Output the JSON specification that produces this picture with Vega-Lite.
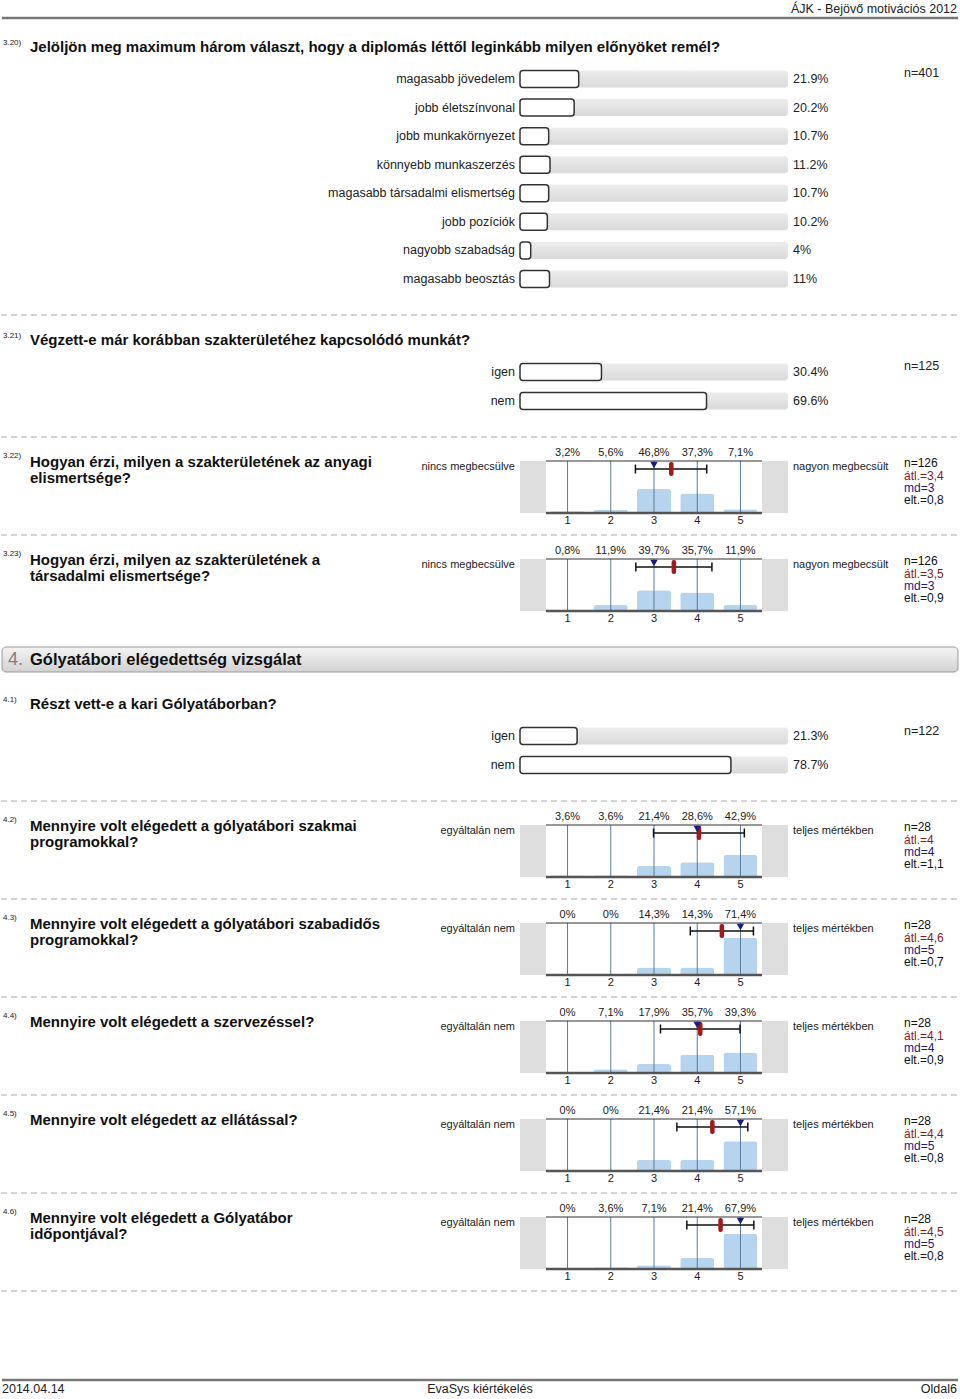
{
"$schema": "https://vega.github.io/schema/vega-lite/v6.json",
"padding": 0,
"spacing": 0,
"bounds": "flush",
"background": "white",
"resolve": {"scale": {"x": "independent", "y": "independent"}},
"config": {"view": {"stroke": null}, "axis": {"disable": true}, "scale": {"continuousPadding": 0}, "font": "Liberation Sans", "text": {"font": "Liberation Sans", "color": "#222222", "baseline": "middle"}},
"datasets": {
"q320": [
{"label": "magasabb jövedelem", "pct": 21.9, "plab": "21.9%"},
{"label": "jobb életszínvonal", "pct": 20.2, "plab": "20.2%"},
{"label": "jobb munkakörnyezet", "pct": 10.7, "plab": "10.7%"},
{"label": "könnyebb munkaszerzés", "pct": 11.2, "plab": "11.2%"},
{"label": "magasabb társadalmi elismertség", "pct": 10.7, "plab": "10.7%"},
{"label": "jobb pozíciók", "pct": 10.2, "plab": "10.2%"},
{"label": "nagyobb szabadság", "pct": 4, "plab": "4%"},
{"label": "magasabb beosztás", "pct": 11, "plab": "11%"}
],
"q321": [{"label": "igen", "pct": 30.4, "plab": "30.4%"}, {"label": "nem", "pct": 69.6, "plab": "69.6%"}],
"q41": [{"label": "igen", "pct": 21.3, "plab": "21.3%"}, {"label": "nem", "pct": 78.7, "plab": "78.7%"}],
"h322": [{"cat": 1, "pct": 3.2, "lab": "3,2%"}, {"cat": 2, "pct": 5.6, "lab": "5,6%"}, {"cat": 3, "pct": 46.8, "lab": "46,8%"}, {"cat": 4, "pct": 37.3, "lab": "37,3%"}, {"cat": 5, "pct": 7.1, "lab": "7,1%"}],
"h323": [{"cat": 1, "pct": 0.8, "lab": "0,8%"}, {"cat": 2, "pct": 11.9, "lab": "11,9%"}, {"cat": 3, "pct": 39.7, "lab": "39,7%"}, {"cat": 4, "pct": 35.7, "lab": "35,7%"}, {"cat": 5, "pct": 11.9, "lab": "11,9%"}],
"h42": [{"cat": 1, "pct": 3.6, "lab": "3,6%"}, {"cat": 2, "pct": 3.6, "lab": "3,6%"}, {"cat": 3, "pct": 21.4, "lab": "21,4%"}, {"cat": 4, "pct": 28.6, "lab": "28,6%"}, {"cat": 5, "pct": 42.9, "lab": "42,9%"}],
"h43": [{"cat": 1, "pct": 0, "lab": "0%"}, {"cat": 2, "pct": 0, "lab": "0%"}, {"cat": 3, "pct": 14.3, "lab": "14,3%"}, {"cat": 4, "pct": 14.3, "lab": "14,3%"}, {"cat": 5, "pct": 71.4, "lab": "71,4%"}],
"h44": [{"cat": 1, "pct": 0, "lab": "0%"}, {"cat": 2, "pct": 7.1, "lab": "7,1%"}, {"cat": 3, "pct": 17.9, "lab": "17,9%"}, {"cat": 4, "pct": 35.7, "lab": "35,7%"}, {"cat": 5, "pct": 39.3, "lab": "39,3%"}],
"h45": [{"cat": 1, "pct": 0, "lab": "0%"}, {"cat": 2, "pct": 0, "lab": "0%"}, {"cat": 3, "pct": 21.4, "lab": "21,4%"}, {"cat": 4, "pct": 21.4, "lab": "21,4%"}, {"cat": 5, "pct": 57.1, "lab": "57,1%"}],
"h46": [{"cat": 1, "pct": 0, "lab": "0%"}, {"cat": 2, "pct": 3.6, "lab": "3,6%"}, {"cat": 3, "pct": 7.1, "lab": "7,1%"}, {"cat": 4, "pct": 21.4, "lab": "21,4%"}, {"cat": 5, "pct": 67.9, "lab": "67,9%"}]
},
"vconcat": [
{"width": 960, "height": 18, "data": {"values": [{"t": "ÁJK - Bejövő motivációs 2012"}]}, "layer": [
 {"mark": {"type": "text", "align": "right", "dx": -3, "fontSize": 12.5}, "encoding": {"x": {"datum": 1, "type": "quantitative", "scale": {"domain": [0, 1], "nice": false, "zero": false, "padding": 0}}, "y": {"datum": 0.5, "type": "quantitative", "scale": {"domain": [0, 1], "nice": false, "zero": false, "padding": 0}}, "text": {"field": "t"}}},
 {"mark": {"type": "rule", "stroke": "#777777", "strokeWidth": 2.5}, "encoding": {"x": {"datum": 0.002, "type": "quantitative"}, "x2": {"datum": 0.998}, "y": {"datum": 0, "type": "quantitative"}}}
]},
{"width": 960, "height": 296, "data": {"name": "q320"}, "layer": [
 {"mark": {"type": "bar", "height": 17, "cornerRadius": 3, "fill": {"gradient": "linear", "x1": 0, "y1": 0, "x2": 0, "y2": 1, "stops": [{"offset": 0, "color": "#ececec"}, {"offset": 1, "color": "#dadada"}]}}, "encoding": {"x": {"datum": 0, "type": "quantitative", "scale": {"domain": [0, 100], "range": [520, 788], "nice": false, "zero": false, "padding": 0}}, "x2": {"datum": 100}, "y": {"field": "label", "type": "nominal", "scale": {"type": "point", "domain": ["magasabb jövedelem", "jobb életszínvonal", "jobb munkakörnyezet", "könnyebb munkaszerzés", "magasabb társadalmi elismertség", "jobb pozíciók", "nagyobb szabadság", "magasabb beosztás"], "range": [61, 261], "padding": 0}}}},
 {"mark": {"type": "bar", "height": 17, "cornerRadius": 3, "fill": "white", "stroke": "#333333", "strokeWidth": 1.5}, "encoding": {"x": {"field": "pct", "type": "quantitative"}, "x2": {"datum": 0}, "y": {"field": "label", "type": "nominal"}}},
 {"mark": {"type": "text", "fontSize": 12.5, "align": "right", "dx": -5}, "encoding": {"x": {"datum": 0, "type": "quantitative"}, "y": {"field": "label", "type": "nominal"}, "text": {"field": "label"}}},
 {"mark": {"type": "text", "fontSize": 12.5, "align": "left", "dx": 5}, "encoding": {"x": {"datum": 100, "type": "quantitative"}, "y": {"field": "label", "type": "nominal"}, "text": {"field": "plab"}}},
 {"data": {"values": [{"n": "n=401", "num": "3.20)", "title": "Jelöljön meg maximum három választ, hogy a diplomás léttől leginkább milyen előnyöket remél?"}]}, "layer": [
  {"mark": {"type": "text", "fontSize": 12.5, "align": "left", "dx": 116, "dy": -6}, "encoding": {"x": {"datum": 100, "type": "quantitative"}, "y": {"datum": "magasabb jövedelem", "type": "nominal"}, "text": {"field": "n"}}},
  {"mark": {"type": "text", "fontSize": 8, "align": "left", "dx": -517, "dy": -36}, "encoding": {"x": {"datum": 0, "type": "quantitative"}, "y": {"datum": "magasabb jövedelem", "type": "nominal"}, "text": {"field": "num"}}},
  {"mark": {"type": "text", "fontSize": 15, "fontWeight": "bold", "align": "left", "baseline": "top", "dx": -490, "dy": -39, "color": "#111111"}, "encoding": {"x": {"datum": 0, "type": "quantitative"}, "y": {"datum": "magasabb jövedelem", "type": "nominal"}, "text": {"field": "title"}}}
 ]}
]},
{"width": 960, "height": 2, "data": {"values": [{}]}, "mark": {"type": "rule", "stroke": "#aaaaaa", "strokeWidth": 1, "strokeDash": [6, 4]}, "encoding": {"x": {"datum": 0.001, "type": "quantitative", "scale": {"domain": [0, 1], "nice": false, "zero": false, "padding": 0}}, "x2": {"datum": 0.997}, "y": {"datum": 0.5, "type": "quantitative", "scale": {"domain": [0, 1], "nice": false, "zero": false, "padding": 0}}}},
{"width": 960, "height": 120, "data": {"name": "q321"}, "layer": [
 {"mark": {"type": "bar", "height": 17, "cornerRadius": 3, "fill": {"gradient": "linear", "x1": 0, "y1": 0, "x2": 0, "y2": 1, "stops": [{"offset": 0, "color": "#ececec"}, {"offset": 1, "color": "#dadada"}]}}, "encoding": {"x": {"datum": 0, "type": "quantitative", "scale": {"domain": [0, 100], "range": [520, 788], "nice": false, "zero": false, "padding": 0}}, "x2": {"datum": 100}, "y": {"field": "label", "type": "nominal", "scale": {"type": "point", "domain": ["igen", "nem"], "range": [56, 85], "padding": 0}}}},
 {"mark": {"type": "bar", "height": 17, "cornerRadius": 3, "fill": "white", "stroke": "#333333", "strokeWidth": 1.5}, "encoding": {"x": {"field": "pct", "type": "quantitative"}, "x2": {"datum": 0}, "y": {"field": "label", "type": "nominal"}}},
 {"mark": {"type": "text", "fontSize": 12.5, "align": "right", "dx": -5}, "encoding": {"x": {"datum": 0, "type": "quantitative"}, "y": {"field": "label", "type": "nominal"}, "text": {"field": "label"}}},
 {"mark": {"type": "text", "fontSize": 12.5, "align": "left", "dx": 5}, "encoding": {"x": {"datum": 100, "type": "quantitative"}, "y": {"field": "label", "type": "nominal"}, "text": {"field": "plab"}}},
 {"data": {"values": [{"n": "n=125", "num": "3.21)", "title": "Végzett-e már korábban szakterületéhez kapcsolódó munkát?"}]}, "layer": [
  {"mark": {"type": "text", "fontSize": 12.5, "align": "left", "dx": 116, "dy": -6}, "encoding": {"x": {"datum": 100, "type": "quantitative"}, "y": {"datum": "igen", "type": "nominal"}, "text": {"field": "n"}}},
  {"mark": {"type": "text", "fontSize": 8, "align": "left", "dx": -517, "dy": -36}, "encoding": {"x": {"datum": 0, "type": "quantitative"}, "y": {"datum": "igen", "type": "nominal"}, "text": {"field": "num"}}},
  {"mark": {"type": "text", "fontSize": 15, "fontWeight": "bold", "align": "left", "baseline": "top", "dx": -490, "dy": -39, "color": "#111111"}, "encoding": {"x": {"datum": 0, "type": "quantitative"}, "y": {"datum": "igen", "type": "nominal"}, "text": {"field": "title"}}}
 ]}
]},
{"width": 960, "height": 2, "data": {"values": [{}]}, "mark": {"type": "rule", "stroke": "#aaaaaa", "strokeWidth": 1, "strokeDash": [6, 4]}, "encoding": {"x": {"datum": 0.001, "type": "quantitative", "scale": {"domain": [0, 1], "nice": false, "zero": false, "padding": 0}}, "x2": {"datum": 0.997}, "y": {"datum": 0.5, "type": "quantitative", "scale": {"domain": [0, 1], "nice": false, "zero": false, "padding": 0}}}},
{"width": 960, "height": 96, "data": {"values": [{"num": "3.22)", "title": "Hogyan érzi, milyen a szakterületének az anyagi\nelismertsége?", "left": "nincs megbecsülve", "right": "nagyon megbecsült", "n": "n=126", "avg": "átl.=3,4", "md": "md=3", "sd": "elt.=0,8", "mean": 3.4, "median": 3, "lo": 2.57, "hi": 4.22}]}, "layer": [
 {"mark": {"type": "bar", "fill": "#dedede"}, "encoding": {"x": {"datum": -0.1, "type": "quantitative", "scale": {"domain": [-0.1, 6.1], "range": [520, 788], "nice": false, "zero": false, "padding": 0}}, "x2": {"datum": 0.5}, "y": {"datum": 0, "type": "quantitative", "scale": {"domain": [0, 100], "range": [75, 23], "nice": false, "zero": false, "padding": 0}}, "y2": {"datum": 100}}},
 {"mark": {"type": "bar", "fill": "#dedede"}, "encoding": {"x": {"datum": 5.5, "type": "quantitative"}, "x2": {"datum": 6.1}, "y": {"datum": 0, "type": "quantitative"}, "y2": {"datum": 100}}},
 {"data": {"name": "h322"}, "mark": {"type": "bar", "orient": "vertical", "width": 34, "fill": "#b7d4ee", "cornerRadiusTopLeft": 3, "cornerRadiusTopRight": 3}, "encoding": {"x": {"field": "cat", "type": "quantitative"}, "y": {"field": "pct", "type": "quantitative"}}},
 {"data": {"name": "h322"}, "mark": {"type": "rule", "stroke": "#5b7b99", "strokeWidth": 1}, "encoding": {"x": {"field": "cat", "type": "quantitative"}, "y": {"datum": 0, "type": "quantitative"}, "y2": {"datum": 100}}},
 {"mark": {"type": "rule", "stroke": "#333333", "strokeWidth": 1.2}, "encoding": {"x": {"datum": 0.5, "type": "quantitative"}, "x2": {"datum": 5.5}, "y": {"datum": 100, "type": "quantitative"}}},
 {"mark": {"type": "rule", "stroke": "#555555", "strokeWidth": 2.5}, "encoding": {"x": {"datum": 0.5, "type": "quantitative"}, "x2": {"datum": 5.5}, "y": {"datum": 0, "type": "quantitative"}}},
 {"data": {"name": "h322"}, "mark": {"type": "text", "fontSize": 11, "dy": -8}, "encoding": {"x": {"field": "cat", "type": "quantitative"}, "y": {"datum": 100, "type": "quantitative"}, "text": {"field": "lab"}}},
 {"data": {"name": "h322"}, "mark": {"type": "text", "fontSize": 11, "dy": 8}, "encoding": {"x": {"field": "cat", "type": "quantitative"}, "y": {"datum": 0, "type": "quantitative"}, "text": {"field": "cat", "type": "quantitative"}}},
 {"mark": {"type": "rule", "stroke": "#111111", "strokeWidth": 1.5}, "encoding": {"x": {"field": "lo", "type": "quantitative"}, "x2": {"field": "hi"}, "y": {"datum": 84.6, "type": "quantitative"}}},
 {"mark": {"type": "tick", "orient": "vertical", "size": 9, "thickness": 1.5, "color": "#111111", "opacity": 1}, "encoding": {"x": {"field": "lo", "type": "quantitative"}, "y": {"datum": 84.6, "type": "quantitative"}}},
 {"mark": {"type": "tick", "orient": "vertical", "size": 9, "thickness": 1.5, "color": "#111111", "opacity": 1}, "encoding": {"x": {"field": "hi", "type": "quantitative"}, "y": {"datum": 84.6, "type": "quantitative"}}},
 {"mark": {"type": "tick", "orient": "vertical", "size": 14, "thickness": 4.5, "color": "#9e1c1c", "opacity": 1, "cornerRadius": 2}, "encoding": {"x": {"field": "mean", "type": "quantitative"}, "y": {"datum": 84.6, "type": "quantitative"}}},
 {"mark": {"type": "point", "shape": "triangle-down", "size": 55, "filled": true, "color": "#1c1c7c", "opacity": 1}, "encoding": {"x": {"field": "median", "type": "quantitative"}, "y": {"datum": 92.3, "type": "quantitative"}}},
 {"mark": {"type": "text", "fontSize": 11, "align": "right", "dx": -5, "dy": 6}, "encoding": {"x": {"datum": -0.1, "type": "quantitative"}, "y": {"datum": 100, "type": "quantitative"}, "text": {"field": "left"}}},
 {"mark": {"type": "text", "fontSize": 11, "align": "left", "dx": 5, "dy": 6}, "encoding": {"x": {"datum": 6.1, "type": "quantitative"}, "y": {"datum": 100, "type": "quantitative"}, "text": {"field": "right"}}},
 {"mark": {"type": "text", "fontSize": 12, "align": "left", "dx": 116, "dy": 2, "color": "#111111"}, "encoding": {"x": {"datum": 6.1, "type": "quantitative"}, "y": {"datum": 100, "type": "quantitative"}, "text": {"field": "n"}}},
 {"mark": {"type": "text", "fontSize": 12, "align": "left", "dx": 116, "dy": 15, "color": "#8b1a1a"}, "encoding": {"x": {"datum": 6.1, "type": "quantitative"}, "y": {"datum": 100, "type": "quantitative"}, "text": {"field": "avg"}}},
 {"mark": {"type": "text", "fontSize": 12, "align": "left", "dx": 116, "dy": 27, "color": "#1a1a80"}, "encoding": {"x": {"datum": 6.1, "type": "quantitative"}, "y": {"datum": 100, "type": "quantitative"}, "text": {"field": "md"}}},
 {"mark": {"type": "text", "fontSize": 12, "align": "left", "dx": 116, "dy": 39, "color": "#111111"}, "encoding": {"x": {"datum": 6.1, "type": "quantitative"}, "y": {"datum": 100, "type": "quantitative"}, "text": {"field": "sd"}}},
 {"mark": {"type": "text", "fontSize": 8, "align": "left", "dx": -517, "dy": -5}, "encoding": {"x": {"datum": -0.1, "type": "quantitative"}, "y": {"datum": 100, "type": "quantitative"}, "text": {"field": "num"}}},
 {"mark": {"type": "text", "fontSize": 15, "fontWeight": "bold", "align": "left", "baseline": "top", "dx": -490, "dy": -6, "lineBreak": "\n", "lineHeight": 16, "color": "#111111"}, "encoding": {"x": {"datum": -0.1, "type": "quantitative"}, "y": {"datum": 100, "type": "quantitative"}, "text": {"field": "title"}}}
]},
{"width": 960, "height": 2, "data": {"values": [{}]}, "mark": {"type": "rule", "stroke": "#aaaaaa", "strokeWidth": 1, "strokeDash": [6, 4]}, "encoding": {"x": {"datum": 0.001, "type": "quantitative", "scale": {"domain": [0, 1], "nice": false, "zero": false, "padding": 0}}, "x2": {"datum": 0.997}, "y": {"datum": 0.5, "type": "quantitative", "scale": {"domain": [0, 1], "nice": false, "zero": false, "padding": 0}}}},
{"width": 960, "height": 96, "data": {"values": [{"num": "3.23)", "title": "Hogyan érzi, milyen az szakterületének a\ntársadalmi elismertsége?", "left": "nincs megbecsülve", "right": "nagyon megbecsült", "n": "n=126", "avg": "átl.=3,5", "md": "md=3", "sd": "elt.=0,9", "mean": 3.46, "median": 3, "lo": 2.58, "hi": 4.34}]}, "layer": [
 {"mark": {"type": "bar", "fill": "#dedede"}, "encoding": {"x": {"datum": -0.1, "type": "quantitative", "scale": {"domain": [-0.1, 6.1], "range": [520, 788], "nice": false, "zero": false, "padding": 0}}, "x2": {"datum": 0.5}, "y": {"datum": 0, "type": "quantitative", "scale": {"domain": [0, 100], "range": [75, 23], "nice": false, "zero": false, "padding": 0}}, "y2": {"datum": 100}}},
 {"mark": {"type": "bar", "fill": "#dedede"}, "encoding": {"x": {"datum": 5.5, "type": "quantitative"}, "x2": {"datum": 6.1}, "y": {"datum": 0, "type": "quantitative"}, "y2": {"datum": 100}}},
 {"data": {"name": "h323"}, "mark": {"type": "bar", "orient": "vertical", "width": 34, "fill": "#b7d4ee", "cornerRadiusTopLeft": 3, "cornerRadiusTopRight": 3}, "encoding": {"x": {"field": "cat", "type": "quantitative"}, "y": {"field": "pct", "type": "quantitative"}}},
 {"data": {"name": "h323"}, "mark": {"type": "rule", "stroke": "#5b7b99", "strokeWidth": 1}, "encoding": {"x": {"field": "cat", "type": "quantitative"}, "y": {"datum": 0, "type": "quantitative"}, "y2": {"datum": 100}}},
 {"mark": {"type": "rule", "stroke": "#333333", "strokeWidth": 1.2}, "encoding": {"x": {"datum": 0.5, "type": "quantitative"}, "x2": {"datum": 5.5}, "y": {"datum": 100, "type": "quantitative"}}},
 {"mark": {"type": "rule", "stroke": "#555555", "strokeWidth": 2.5}, "encoding": {"x": {"datum": 0.5, "type": "quantitative"}, "x2": {"datum": 5.5}, "y": {"datum": 0, "type": "quantitative"}}},
 {"data": {"name": "h323"}, "mark": {"type": "text", "fontSize": 11, "dy": -8}, "encoding": {"x": {"field": "cat", "type": "quantitative"}, "y": {"datum": 100, "type": "quantitative"}, "text": {"field": "lab"}}},
 {"data": {"name": "h323"}, "mark": {"type": "text", "fontSize": 11, "dy": 8}, "encoding": {"x": {"field": "cat", "type": "quantitative"}, "y": {"datum": 0, "type": "quantitative"}, "text": {"field": "cat", "type": "quantitative"}}},
 {"mark": {"type": "rule", "stroke": "#111111", "strokeWidth": 1.5}, "encoding": {"x": {"field": "lo", "type": "quantitative"}, "x2": {"field": "hi"}, "y": {"datum": 84.6, "type": "quantitative"}}},
 {"mark": {"type": "tick", "orient": "vertical", "size": 9, "thickness": 1.5, "color": "#111111", "opacity": 1}, "encoding": {"x": {"field": "lo", "type": "quantitative"}, "y": {"datum": 84.6, "type": "quantitative"}}},
 {"mark": {"type": "tick", "orient": "vertical", "size": 9, "thickness": 1.5, "color": "#111111", "opacity": 1}, "encoding": {"x": {"field": "hi", "type": "quantitative"}, "y": {"datum": 84.6, "type": "quantitative"}}},
 {"mark": {"type": "tick", "orient": "vertical", "size": 14, "thickness": 4.5, "color": "#9e1c1c", "opacity": 1, "cornerRadius": 2}, "encoding": {"x": {"field": "mean", "type": "quantitative"}, "y": {"datum": 84.6, "type": "quantitative"}}},
 {"mark": {"type": "point", "shape": "triangle-down", "size": 55, "filled": true, "color": "#1c1c7c", "opacity": 1}, "encoding": {"x": {"field": "median", "type": "quantitative"}, "y": {"datum": 92.3, "type": "quantitative"}}},
 {"mark": {"type": "text", "fontSize": 11, "align": "right", "dx": -5, "dy": 6}, "encoding": {"x": {"datum": -0.1, "type": "quantitative"}, "y": {"datum": 100, "type": "quantitative"}, "text": {"field": "left"}}},
 {"mark": {"type": "text", "fontSize": 11, "align": "left", "dx": 5, "dy": 6}, "encoding": {"x": {"datum": 6.1, "type": "quantitative"}, "y": {"datum": 100, "type": "quantitative"}, "text": {"field": "right"}}},
 {"mark": {"type": "text", "fontSize": 12, "align": "left", "dx": 116, "dy": 2, "color": "#111111"}, "encoding": {"x": {"datum": 6.1, "type": "quantitative"}, "y": {"datum": 100, "type": "quantitative"}, "text": {"field": "n"}}},
 {"mark": {"type": "text", "fontSize": 12, "align": "left", "dx": 116, "dy": 15, "color": "#8b1a1a"}, "encoding": {"x": {"datum": 6.1, "type": "quantitative"}, "y": {"datum": 100, "type": "quantitative"}, "text": {"field": "avg"}}},
 {"mark": {"type": "text", "fontSize": 12, "align": "left", "dx": 116, "dy": 27, "color": "#1a1a80"}, "encoding": {"x": {"datum": 6.1, "type": "quantitative"}, "y": {"datum": 100, "type": "quantitative"}, "text": {"field": "md"}}},
 {"mark": {"type": "text", "fontSize": 12, "align": "left", "dx": 116, "dy": 39, "color": "#111111"}, "encoding": {"x": {"datum": 6.1, "type": "quantitative"}, "y": {"datum": 100, "type": "quantitative"}, "text": {"field": "sd"}}},
 {"mark": {"type": "text", "fontSize": 8, "align": "left", "dx": -517, "dy": -5}, "encoding": {"x": {"datum": -0.1, "type": "quantitative"}, "y": {"datum": 100, "type": "quantitative"}, "text": {"field": "num"}}},
 {"mark": {"type": "text", "fontSize": 15, "fontWeight": "bold", "align": "left", "baseline": "top", "dx": -490, "dy": -6, "lineBreak": "\n", "lineHeight": 16, "color": "#111111"}, "encoding": {"x": {"datum": -0.1, "type": "quantitative"}, "y": {"datum": 100, "type": "quantitative"}, "text": {"field": "title"}}}
]},
{"width": 960, "height": 48, "data": {"values": [{"num": "4.", "title": "Gólyatábori elégedettség vizsgálat"}]}, "layer": [
 {"mark": {"type": "bar", "cornerRadius": 4, "stroke": "#9a9a9a", "strokeWidth": 1, "fill": {"gradient": "linear", "x1": 0, "y1": 0, "x2": 0, "y2": 1, "stops": [{"offset": 0, "color": "#f4f4f4"}, {"offset": 1, "color": "#d2d2d2"}]}}, "encoding": {"x": {"datum": 0, "type": "quantitative", "scale": {"domain": [0, 1], "range": [2, 958], "nice": false, "zero": false, "padding": 0}}, "x2": {"datum": 1}, "y": {"datum": 0, "type": "quantitative", "scale": {"domain": [0, 1], "range": [40, 15], "nice": false, "zero": false, "padding": 0}}, "y2": {"datum": 1}}},
 {"mark": {"type": "text", "fontSize": 18, "align": "left", "dx": 6, "color": "#808080"}, "encoding": {"x": {"datum": 0, "type": "quantitative"}, "y": {"datum": 0.5, "type": "quantitative"}, "text": {"field": "num"}}},
 {"mark": {"type": "text", "fontSize": 16.5, "fontWeight": "bold", "align": "left", "dx": 28, "color": "#111111"}, "encoding": {"x": {"datum": 0, "type": "quantitative"}, "y": {"datum": 0.5, "type": "quantitative"}, "text": {"field": "title"}}}
]},
{"width": 960, "height": 120, "data": {"name": "q41"}, "layer": [
 {"mark": {"type": "bar", "height": 17, "cornerRadius": 3, "fill": {"gradient": "linear", "x1": 0, "y1": 0, "x2": 0, "y2": 1, "stops": [{"offset": 0, "color": "#ececec"}, {"offset": 1, "color": "#dadada"}]}}, "encoding": {"x": {"datum": 0, "type": "quantitative", "scale": {"domain": [0, 100], "range": [520, 788], "nice": false, "zero": false, "padding": 0}}, "x2": {"datum": 100}, "y": {"field": "label", "type": "nominal", "scale": {"type": "point", "domain": ["igen", "nem"], "range": [56, 85], "padding": 0}}}},
 {"mark": {"type": "bar", "height": 17, "cornerRadius": 3, "fill": "white", "stroke": "#333333", "strokeWidth": 1.5}, "encoding": {"x": {"field": "pct", "type": "quantitative"}, "x2": {"datum": 0}, "y": {"field": "label", "type": "nominal"}}},
 {"mark": {"type": "text", "fontSize": 12.5, "align": "right", "dx": -5}, "encoding": {"x": {"datum": 0, "type": "quantitative"}, "y": {"field": "label", "type": "nominal"}, "text": {"field": "label"}}},
 {"mark": {"type": "text", "fontSize": 12.5, "align": "left", "dx": 5}, "encoding": {"x": {"datum": 100, "type": "quantitative"}, "y": {"field": "label", "type": "nominal"}, "text": {"field": "plab"}}},
 {"data": {"values": [{"n": "n=122", "num": "4.1)", "title": "Részt vett-e a kari Gólyatáborban?"}]}, "layer": [
  {"mark": {"type": "text", "fontSize": 12.5, "align": "left", "dx": 116, "dy": -5}, "encoding": {"x": {"datum": 100, "type": "quantitative"}, "y": {"datum": "igen", "type": "nominal"}, "text": {"field": "n"}}},
  {"mark": {"type": "text", "fontSize": 8, "align": "left", "dx": -517, "dy": -36}, "encoding": {"x": {"datum": 0, "type": "quantitative"}, "y": {"datum": "igen", "type": "nominal"}, "text": {"field": "num"}}},
  {"mark": {"type": "text", "fontSize": 15, "fontWeight": "bold", "align": "left", "baseline": "top", "dx": -490, "dy": -39, "color": "#111111"}, "encoding": {"x": {"datum": 0, "type": "quantitative"}, "y": {"datum": "igen", "type": "nominal"}, "text": {"field": "title"}}}
 ]}
]},
{"width": 960, "height": 2, "data": {"values": [{}]}, "mark": {"type": "rule", "stroke": "#aaaaaa", "strokeWidth": 1, "strokeDash": [6, 4]}, "encoding": {"x": {"datum": 0.001, "type": "quantitative", "scale": {"domain": [0, 1], "nice": false, "zero": false, "padding": 0}}, "x2": {"datum": 0.997}, "y": {"datum": 0.5, "type": "quantitative", "scale": {"domain": [0, 1], "nice": false, "zero": false, "padding": 0}}}},
{"width": 960, "height": 96, "data": {"values": [{"num": "4.2)", "title": "Mennyire volt elégedett a gólyatábori szakmai\nprogramokkal?", "left": "egyáltalán nem", "right": "teljes mértékben", "n": "n=28", "avg": "átl.=4", "md": "md=4", "sd": "elt.=1,1", "mean": 4.04, "median": 4, "lo": 2.99, "hi": 5.09}]}, "layer": [
 {"mark": {"type": "bar", "fill": "#dedede"}, "encoding": {"x": {"datum": -0.1, "type": "quantitative", "scale": {"domain": [-0.1, 6.1], "range": [520, 788], "nice": false, "zero": false, "padding": 0}}, "x2": {"datum": 0.5}, "y": {"datum": 0, "type": "quantitative", "scale": {"domain": [0, 100], "range": [75, 23], "nice": false, "zero": false, "padding": 0}}, "y2": {"datum": 100}}},
 {"mark": {"type": "bar", "fill": "#dedede"}, "encoding": {"x": {"datum": 5.5, "type": "quantitative"}, "x2": {"datum": 6.1}, "y": {"datum": 0, "type": "quantitative"}, "y2": {"datum": 100}}},
 {"data": {"name": "h42"}, "mark": {"type": "bar", "orient": "vertical", "width": 34, "fill": "#b7d4ee", "cornerRadiusTopLeft": 3, "cornerRadiusTopRight": 3}, "encoding": {"x": {"field": "cat", "type": "quantitative"}, "y": {"field": "pct", "type": "quantitative"}}},
 {"data": {"name": "h42"}, "mark": {"type": "rule", "stroke": "#5b7b99", "strokeWidth": 1}, "encoding": {"x": {"field": "cat", "type": "quantitative"}, "y": {"datum": 0, "type": "quantitative"}, "y2": {"datum": 100}}},
 {"mark": {"type": "rule", "stroke": "#333333", "strokeWidth": 1.2}, "encoding": {"x": {"datum": 0.5, "type": "quantitative"}, "x2": {"datum": 5.5}, "y": {"datum": 100, "type": "quantitative"}}},
 {"mark": {"type": "rule", "stroke": "#555555", "strokeWidth": 2.5}, "encoding": {"x": {"datum": 0.5, "type": "quantitative"}, "x2": {"datum": 5.5}, "y": {"datum": 0, "type": "quantitative"}}},
 {"data": {"name": "h42"}, "mark": {"type": "text", "fontSize": 11, "dy": -8}, "encoding": {"x": {"field": "cat", "type": "quantitative"}, "y": {"datum": 100, "type": "quantitative"}, "text": {"field": "lab"}}},
 {"data": {"name": "h42"}, "mark": {"type": "text", "fontSize": 11, "dy": 8}, "encoding": {"x": {"field": "cat", "type": "quantitative"}, "y": {"datum": 0, "type": "quantitative"}, "text": {"field": "cat", "type": "quantitative"}}},
 {"mark": {"type": "rule", "stroke": "#111111", "strokeWidth": 1.5}, "encoding": {"x": {"field": "lo", "type": "quantitative"}, "x2": {"field": "hi"}, "y": {"datum": 84.6, "type": "quantitative"}}},
 {"mark": {"type": "tick", "orient": "vertical", "size": 9, "thickness": 1.5, "color": "#111111", "opacity": 1}, "encoding": {"x": {"field": "lo", "type": "quantitative"}, "y": {"datum": 84.6, "type": "quantitative"}}},
 {"mark": {"type": "tick", "orient": "vertical", "size": 9, "thickness": 1.5, "color": "#111111", "opacity": 1}, "encoding": {"x": {"field": "hi", "type": "quantitative"}, "y": {"datum": 84.6, "type": "quantitative"}}},
 {"mark": {"type": "tick", "orient": "vertical", "size": 14, "thickness": 4.5, "color": "#9e1c1c", "opacity": 1, "cornerRadius": 2}, "encoding": {"x": {"field": "mean", "type": "quantitative"}, "y": {"datum": 84.6, "type": "quantitative"}}},
 {"mark": {"type": "point", "shape": "triangle-down", "size": 55, "filled": true, "color": "#1c1c7c", "opacity": 1}, "encoding": {"x": {"field": "median", "type": "quantitative"}, "y": {"datum": 92.3, "type": "quantitative"}}},
 {"mark": {"type": "text", "fontSize": 11, "align": "right", "dx": -5, "dy": 6}, "encoding": {"x": {"datum": -0.1, "type": "quantitative"}, "y": {"datum": 100, "type": "quantitative"}, "text": {"field": "left"}}},
 {"mark": {"type": "text", "fontSize": 11, "align": "left", "dx": 5, "dy": 6}, "encoding": {"x": {"datum": 6.1, "type": "quantitative"}, "y": {"datum": 100, "type": "quantitative"}, "text": {"field": "right"}}},
 {"mark": {"type": "text", "fontSize": 12, "align": "left", "dx": 116, "dy": 2, "color": "#111111"}, "encoding": {"x": {"datum": 6.1, "type": "quantitative"}, "y": {"datum": 100, "type": "quantitative"}, "text": {"field": "n"}}},
 {"mark": {"type": "text", "fontSize": 12, "align": "left", "dx": 116, "dy": 15, "color": "#8b1a1a"}, "encoding": {"x": {"datum": 6.1, "type": "quantitative"}, "y": {"datum": 100, "type": "quantitative"}, "text": {"field": "avg"}}},
 {"mark": {"type": "text", "fontSize": 12, "align": "left", "dx": 116, "dy": 27, "color": "#1a1a80"}, "encoding": {"x": {"datum": 6.1, "type": "quantitative"}, "y": {"datum": 100, "type": "quantitative"}, "text": {"field": "md"}}},
 {"mark": {"type": "text", "fontSize": 12, "align": "left", "dx": 116, "dy": 39, "color": "#111111"}, "encoding": {"x": {"datum": 6.1, "type": "quantitative"}, "y": {"datum": 100, "type": "quantitative"}, "text": {"field": "sd"}}},
 {"mark": {"type": "text", "fontSize": 8, "align": "left", "dx": -517, "dy": -5}, "encoding": {"x": {"datum": -0.1, "type": "quantitative"}, "y": {"datum": 100, "type": "quantitative"}, "text": {"field": "num"}}},
 {"mark": {"type": "text", "fontSize": 15, "fontWeight": "bold", "align": "left", "baseline": "top", "dx": -490, "dy": -6, "lineBreak": "\n", "lineHeight": 16, "color": "#111111"}, "encoding": {"x": {"datum": -0.1, "type": "quantitative"}, "y": {"datum": 100, "type": "quantitative"}, "text": {"field": "title"}}}
]},
{"width": 960, "height": 2, "data": {"values": [{}]}, "mark": {"type": "rule", "stroke": "#aaaaaa", "strokeWidth": 1, "strokeDash": [6, 4]}, "encoding": {"x": {"datum": 0.001, "type": "quantitative", "scale": {"domain": [0, 1], "nice": false, "zero": false, "padding": 0}}, "x2": {"datum": 0.997}, "y": {"datum": 0.5, "type": "quantitative", "scale": {"domain": [0, 1], "nice": false, "zero": false, "padding": 0}}}},
{"width": 960, "height": 96, "data": {"values": [{"num": "4.3)", "title": "Mennyire volt elégedett a gólyatábori szabadidős\nprogramokkal?", "left": "egyáltalán nem", "right": "teljes mértékben", "n": "n=28", "avg": "átl.=4,6", "md": "md=5", "sd": "elt.=0,7", "mean": 4.57, "median": 5, "lo": 3.84, "hi": 5.3}]}, "layer": [
 {"mark": {"type": "bar", "fill": "#dedede"}, "encoding": {"x": {"datum": -0.1, "type": "quantitative", "scale": {"domain": [-0.1, 6.1], "range": [520, 788], "nice": false, "zero": false, "padding": 0}}, "x2": {"datum": 0.5}, "y": {"datum": 0, "type": "quantitative", "scale": {"domain": [0, 100], "range": [75, 23], "nice": false, "zero": false, "padding": 0}}, "y2": {"datum": 100}}},
 {"mark": {"type": "bar", "fill": "#dedede"}, "encoding": {"x": {"datum": 5.5, "type": "quantitative"}, "x2": {"datum": 6.1}, "y": {"datum": 0, "type": "quantitative"}, "y2": {"datum": 100}}},
 {"data": {"name": "h43"}, "mark": {"type": "bar", "orient": "vertical", "width": 34, "fill": "#b7d4ee", "cornerRadiusTopLeft": 3, "cornerRadiusTopRight": 3}, "encoding": {"x": {"field": "cat", "type": "quantitative"}, "y": {"field": "pct", "type": "quantitative"}}},
 {"data": {"name": "h43"}, "mark": {"type": "rule", "stroke": "#5b7b99", "strokeWidth": 1}, "encoding": {"x": {"field": "cat", "type": "quantitative"}, "y": {"datum": 0, "type": "quantitative"}, "y2": {"datum": 100}}},
 {"mark": {"type": "rule", "stroke": "#333333", "strokeWidth": 1.2}, "encoding": {"x": {"datum": 0.5, "type": "quantitative"}, "x2": {"datum": 5.5}, "y": {"datum": 100, "type": "quantitative"}}},
 {"mark": {"type": "rule", "stroke": "#555555", "strokeWidth": 2.5}, "encoding": {"x": {"datum": 0.5, "type": "quantitative"}, "x2": {"datum": 5.5}, "y": {"datum": 0, "type": "quantitative"}}},
 {"data": {"name": "h43"}, "mark": {"type": "text", "fontSize": 11, "dy": -8}, "encoding": {"x": {"field": "cat", "type": "quantitative"}, "y": {"datum": 100, "type": "quantitative"}, "text": {"field": "lab"}}},
 {"data": {"name": "h43"}, "mark": {"type": "text", "fontSize": 11, "dy": 8}, "encoding": {"x": {"field": "cat", "type": "quantitative"}, "y": {"datum": 0, "type": "quantitative"}, "text": {"field": "cat", "type": "quantitative"}}},
 {"mark": {"type": "rule", "stroke": "#111111", "strokeWidth": 1.5}, "encoding": {"x": {"field": "lo", "type": "quantitative"}, "x2": {"field": "hi"}, "y": {"datum": 84.6, "type": "quantitative"}}},
 {"mark": {"type": "tick", "orient": "vertical", "size": 9, "thickness": 1.5, "color": "#111111", "opacity": 1}, "encoding": {"x": {"field": "lo", "type": "quantitative"}, "y": {"datum": 84.6, "type": "quantitative"}}},
 {"mark": {"type": "tick", "orient": "vertical", "size": 9, "thickness": 1.5, "color": "#111111", "opacity": 1}, "encoding": {"x": {"field": "hi", "type": "quantitative"}, "y": {"datum": 84.6, "type": "quantitative"}}},
 {"mark": {"type": "tick", "orient": "vertical", "size": 14, "thickness": 4.5, "color": "#9e1c1c", "opacity": 1, "cornerRadius": 2}, "encoding": {"x": {"field": "mean", "type": "quantitative"}, "y": {"datum": 84.6, "type": "quantitative"}}},
 {"mark": {"type": "point", "shape": "triangle-down", "size": 55, "filled": true, "color": "#1c1c7c", "opacity": 1}, "encoding": {"x": {"field": "median", "type": "quantitative"}, "y": {"datum": 92.3, "type": "quantitative"}}},
 {"mark": {"type": "text", "fontSize": 11, "align": "right", "dx": -5, "dy": 6}, "encoding": {"x": {"datum": -0.1, "type": "quantitative"}, "y": {"datum": 100, "type": "quantitative"}, "text": {"field": "left"}}},
 {"mark": {"type": "text", "fontSize": 11, "align": "left", "dx": 5, "dy": 6}, "encoding": {"x": {"datum": 6.1, "type": "quantitative"}, "y": {"datum": 100, "type": "quantitative"}, "text": {"field": "right"}}},
 {"mark": {"type": "text", "fontSize": 12, "align": "left", "dx": 116, "dy": 2, "color": "#111111"}, "encoding": {"x": {"datum": 6.1, "type": "quantitative"}, "y": {"datum": 100, "type": "quantitative"}, "text": {"field": "n"}}},
 {"mark": {"type": "text", "fontSize": 12, "align": "left", "dx": 116, "dy": 15, "color": "#8b1a1a"}, "encoding": {"x": {"datum": 6.1, "type": "quantitative"}, "y": {"datum": 100, "type": "quantitative"}, "text": {"field": "avg"}}},
 {"mark": {"type": "text", "fontSize": 12, "align": "left", "dx": 116, "dy": 27, "color": "#1a1a80"}, "encoding": {"x": {"datum": 6.1, "type": "quantitative"}, "y": {"datum": 100, "type": "quantitative"}, "text": {"field": "md"}}},
 {"mark": {"type": "text", "fontSize": 12, "align": "left", "dx": 116, "dy": 39, "color": "#111111"}, "encoding": {"x": {"datum": 6.1, "type": "quantitative"}, "y": {"datum": 100, "type": "quantitative"}, "text": {"field": "sd"}}},
 {"mark": {"type": "text", "fontSize": 8, "align": "left", "dx": -517, "dy": -5}, "encoding": {"x": {"datum": -0.1, "type": "quantitative"}, "y": {"datum": 100, "type": "quantitative"}, "text": {"field": "num"}}},
 {"mark": {"type": "text", "fontSize": 15, "fontWeight": "bold", "align": "left", "baseline": "top", "dx": -490, "dy": -6, "lineBreak": "\n", "lineHeight": 16, "color": "#111111"}, "encoding": {"x": {"datum": -0.1, "type": "quantitative"}, "y": {"datum": 100, "type": "quantitative"}, "text": {"field": "title"}}}
]},
{"width": 960, "height": 2, "data": {"values": [{}]}, "mark": {"type": "rule", "stroke": "#aaaaaa", "strokeWidth": 1, "strokeDash": [6, 4]}, "encoding": {"x": {"datum": 0.001, "type": "quantitative", "scale": {"domain": [0, 1], "nice": false, "zero": false, "padding": 0}}, "x2": {"datum": 0.997}, "y": {"datum": 0.5, "type": "quantitative", "scale": {"domain": [0, 1], "nice": false, "zero": false, "padding": 0}}}},
{"width": 960, "height": 96, "data": {"values": [{"num": "4.4)", "title": "Mennyire volt elégedett a szervezéssel?", "left": "egyáltalán nem", "right": "teljes mértékben", "n": "n=28", "avg": "átl.=4,1", "md": "md=4", "sd": "elt.=0,9", "mean": 4.07, "median": 4, "lo": 3.15, "hi": 4.99}]}, "layer": [
 {"mark": {"type": "bar", "fill": "#dedede"}, "encoding": {"x": {"datum": -0.1, "type": "quantitative", "scale": {"domain": [-0.1, 6.1], "range": [520, 788], "nice": false, "zero": false, "padding": 0}}, "x2": {"datum": 0.5}, "y": {"datum": 0, "type": "quantitative", "scale": {"domain": [0, 100], "range": [75, 23], "nice": false, "zero": false, "padding": 0}}, "y2": {"datum": 100}}},
 {"mark": {"type": "bar", "fill": "#dedede"}, "encoding": {"x": {"datum": 5.5, "type": "quantitative"}, "x2": {"datum": 6.1}, "y": {"datum": 0, "type": "quantitative"}, "y2": {"datum": 100}}},
 {"data": {"name": "h44"}, "mark": {"type": "bar", "orient": "vertical", "width": 34, "fill": "#b7d4ee", "cornerRadiusTopLeft": 3, "cornerRadiusTopRight": 3}, "encoding": {"x": {"field": "cat", "type": "quantitative"}, "y": {"field": "pct", "type": "quantitative"}}},
 {"data": {"name": "h44"}, "mark": {"type": "rule", "stroke": "#5b7b99", "strokeWidth": 1}, "encoding": {"x": {"field": "cat", "type": "quantitative"}, "y": {"datum": 0, "type": "quantitative"}, "y2": {"datum": 100}}},
 {"mark": {"type": "rule", "stroke": "#333333", "strokeWidth": 1.2}, "encoding": {"x": {"datum": 0.5, "type": "quantitative"}, "x2": {"datum": 5.5}, "y": {"datum": 100, "type": "quantitative"}}},
 {"mark": {"type": "rule", "stroke": "#555555", "strokeWidth": 2.5}, "encoding": {"x": {"datum": 0.5, "type": "quantitative"}, "x2": {"datum": 5.5}, "y": {"datum": 0, "type": "quantitative"}}},
 {"data": {"name": "h44"}, "mark": {"type": "text", "fontSize": 11, "dy": -8}, "encoding": {"x": {"field": "cat", "type": "quantitative"}, "y": {"datum": 100, "type": "quantitative"}, "text": {"field": "lab"}}},
 {"data": {"name": "h44"}, "mark": {"type": "text", "fontSize": 11, "dy": 8}, "encoding": {"x": {"field": "cat", "type": "quantitative"}, "y": {"datum": 0, "type": "quantitative"}, "text": {"field": "cat", "type": "quantitative"}}},
 {"mark": {"type": "rule", "stroke": "#111111", "strokeWidth": 1.5}, "encoding": {"x": {"field": "lo", "type": "quantitative"}, "x2": {"field": "hi"}, "y": {"datum": 84.6, "type": "quantitative"}}},
 {"mark": {"type": "tick", "orient": "vertical", "size": 9, "thickness": 1.5, "color": "#111111", "opacity": 1}, "encoding": {"x": {"field": "lo", "type": "quantitative"}, "y": {"datum": 84.6, "type": "quantitative"}}},
 {"mark": {"type": "tick", "orient": "vertical", "size": 9, "thickness": 1.5, "color": "#111111", "opacity": 1}, "encoding": {"x": {"field": "hi", "type": "quantitative"}, "y": {"datum": 84.6, "type": "quantitative"}}},
 {"mark": {"type": "tick", "orient": "vertical", "size": 14, "thickness": 4.5, "color": "#9e1c1c", "opacity": 1, "cornerRadius": 2}, "encoding": {"x": {"field": "mean", "type": "quantitative"}, "y": {"datum": 84.6, "type": "quantitative"}}},
 {"mark": {"type": "point", "shape": "triangle-down", "size": 55, "filled": true, "color": "#1c1c7c", "opacity": 1}, "encoding": {"x": {"field": "median", "type": "quantitative"}, "y": {"datum": 92.3, "type": "quantitative"}}},
 {"mark": {"type": "text", "fontSize": 11, "align": "right", "dx": -5, "dy": 6}, "encoding": {"x": {"datum": -0.1, "type": "quantitative"}, "y": {"datum": 100, "type": "quantitative"}, "text": {"field": "left"}}},
 {"mark": {"type": "text", "fontSize": 11, "align": "left", "dx": 5, "dy": 6}, "encoding": {"x": {"datum": 6.1, "type": "quantitative"}, "y": {"datum": 100, "type": "quantitative"}, "text": {"field": "right"}}},
 {"mark": {"type": "text", "fontSize": 12, "align": "left", "dx": 116, "dy": 2, "color": "#111111"}, "encoding": {"x": {"datum": 6.1, "type": "quantitative"}, "y": {"datum": 100, "type": "quantitative"}, "text": {"field": "n"}}},
 {"mark": {"type": "text", "fontSize": 12, "align": "left", "dx": 116, "dy": 15, "color": "#8b1a1a"}, "encoding": {"x": {"datum": 6.1, "type": "quantitative"}, "y": {"datum": 100, "type": "quantitative"}, "text": {"field": "avg"}}},
 {"mark": {"type": "text", "fontSize": 12, "align": "left", "dx": 116, "dy": 27, "color": "#1a1a80"}, "encoding": {"x": {"datum": 6.1, "type": "quantitative"}, "y": {"datum": 100, "type": "quantitative"}, "text": {"field": "md"}}},
 {"mark": {"type": "text", "fontSize": 12, "align": "left", "dx": 116, "dy": 39, "color": "#111111"}, "encoding": {"x": {"datum": 6.1, "type": "quantitative"}, "y": {"datum": 100, "type": "quantitative"}, "text": {"field": "sd"}}},
 {"mark": {"type": "text", "fontSize": 8, "align": "left", "dx": -517, "dy": -5}, "encoding": {"x": {"datum": -0.1, "type": "quantitative"}, "y": {"datum": 100, "type": "quantitative"}, "text": {"field": "num"}}},
 {"mark": {"type": "text", "fontSize": 15, "fontWeight": "bold", "align": "left", "baseline": "top", "dx": -490, "dy": -6, "lineBreak": "\n", "lineHeight": 16, "color": "#111111"}, "encoding": {"x": {"datum": -0.1, "type": "quantitative"}, "y": {"datum": 100, "type": "quantitative"}, "text": {"field": "title"}}}
]},
{"width": 960, "height": 2, "data": {"values": [{}]}, "mark": {"type": "rule", "stroke": "#aaaaaa", "strokeWidth": 1, "strokeDash": [6, 4]}, "encoding": {"x": {"datum": 0.001, "type": "quantitative", "scale": {"domain": [0, 1], "nice": false, "zero": false, "padding": 0}}, "x2": {"datum": 0.997}, "y": {"datum": 0.5, "type": "quantitative", "scale": {"domain": [0, 1], "nice": false, "zero": false, "padding": 0}}}},
{"width": 960, "height": 96, "data": {"values": [{"num": "4.5)", "title": "Mennyire volt elégedett az ellátással?", "left": "egyáltalán nem", "right": "teljes mértékben", "n": "n=28", "avg": "átl.=4,4", "md": "md=5", "sd": "elt.=0,8", "mean": 4.35, "median": 5, "lo": 3.53, "hi": 5.17}]}, "layer": [
 {"mark": {"type": "bar", "fill": "#dedede"}, "encoding": {"x": {"datum": -0.1, "type": "quantitative", "scale": {"domain": [-0.1, 6.1], "range": [520, 788], "nice": false, "zero": false, "padding": 0}}, "x2": {"datum": 0.5}, "y": {"datum": 0, "type": "quantitative", "scale": {"domain": [0, 100], "range": [75, 23], "nice": false, "zero": false, "padding": 0}}, "y2": {"datum": 100}}},
 {"mark": {"type": "bar", "fill": "#dedede"}, "encoding": {"x": {"datum": 5.5, "type": "quantitative"}, "x2": {"datum": 6.1}, "y": {"datum": 0, "type": "quantitative"}, "y2": {"datum": 100}}},
 {"data": {"name": "h45"}, "mark": {"type": "bar", "orient": "vertical", "width": 34, "fill": "#b7d4ee", "cornerRadiusTopLeft": 3, "cornerRadiusTopRight": 3}, "encoding": {"x": {"field": "cat", "type": "quantitative"}, "y": {"field": "pct", "type": "quantitative"}}},
 {"data": {"name": "h45"}, "mark": {"type": "rule", "stroke": "#5b7b99", "strokeWidth": 1}, "encoding": {"x": {"field": "cat", "type": "quantitative"}, "y": {"datum": 0, "type": "quantitative"}, "y2": {"datum": 100}}},
 {"mark": {"type": "rule", "stroke": "#333333", "strokeWidth": 1.2}, "encoding": {"x": {"datum": 0.5, "type": "quantitative"}, "x2": {"datum": 5.5}, "y": {"datum": 100, "type": "quantitative"}}},
 {"mark": {"type": "rule", "stroke": "#555555", "strokeWidth": 2.5}, "encoding": {"x": {"datum": 0.5, "type": "quantitative"}, "x2": {"datum": 5.5}, "y": {"datum": 0, "type": "quantitative"}}},
 {"data": {"name": "h45"}, "mark": {"type": "text", "fontSize": 11, "dy": -8}, "encoding": {"x": {"field": "cat", "type": "quantitative"}, "y": {"datum": 100, "type": "quantitative"}, "text": {"field": "lab"}}},
 {"data": {"name": "h45"}, "mark": {"type": "text", "fontSize": 11, "dy": 8}, "encoding": {"x": {"field": "cat", "type": "quantitative"}, "y": {"datum": 0, "type": "quantitative"}, "text": {"field": "cat", "type": "quantitative"}}},
 {"mark": {"type": "rule", "stroke": "#111111", "strokeWidth": 1.5}, "encoding": {"x": {"field": "lo", "type": "quantitative"}, "x2": {"field": "hi"}, "y": {"datum": 84.6, "type": "quantitative"}}},
 {"mark": {"type": "tick", "orient": "vertical", "size": 9, "thickness": 1.5, "color": "#111111", "opacity": 1}, "encoding": {"x": {"field": "lo", "type": "quantitative"}, "y": {"datum": 84.6, "type": "quantitative"}}},
 {"mark": {"type": "tick", "orient": "vertical", "size": 9, "thickness": 1.5, "color": "#111111", "opacity": 1}, "encoding": {"x": {"field": "hi", "type": "quantitative"}, "y": {"datum": 84.6, "type": "quantitative"}}},
 {"mark": {"type": "tick", "orient": "vertical", "size": 14, "thickness": 4.5, "color": "#9e1c1c", "opacity": 1, "cornerRadius": 2}, "encoding": {"x": {"field": "mean", "type": "quantitative"}, "y": {"datum": 84.6, "type": "quantitative"}}},
 {"mark": {"type": "point", "shape": "triangle-down", "size": 55, "filled": true, "color": "#1c1c7c", "opacity": 1}, "encoding": {"x": {"field": "median", "type": "quantitative"}, "y": {"datum": 92.3, "type": "quantitative"}}},
 {"mark": {"type": "text", "fontSize": 11, "align": "right", "dx": -5, "dy": 6}, "encoding": {"x": {"datum": -0.1, "type": "quantitative"}, "y": {"datum": 100, "type": "quantitative"}, "text": {"field": "left"}}},
 {"mark": {"type": "text", "fontSize": 11, "align": "left", "dx": 5, "dy": 6}, "encoding": {"x": {"datum": 6.1, "type": "quantitative"}, "y": {"datum": 100, "type": "quantitative"}, "text": {"field": "right"}}},
 {"mark": {"type": "text", "fontSize": 12, "align": "left", "dx": 116, "dy": 2, "color": "#111111"}, "encoding": {"x": {"datum": 6.1, "type": "quantitative"}, "y": {"datum": 100, "type": "quantitative"}, "text": {"field": "n"}}},
 {"mark": {"type": "text", "fontSize": 12, "align": "left", "dx": 116, "dy": 15, "color": "#8b1a1a"}, "encoding": {"x": {"datum": 6.1, "type": "quantitative"}, "y": {"datum": 100, "type": "quantitative"}, "text": {"field": "avg"}}},
 {"mark": {"type": "text", "fontSize": 12, "align": "left", "dx": 116, "dy": 27, "color": "#1a1a80"}, "encoding": {"x": {"datum": 6.1, "type": "quantitative"}, "y": {"datum": 100, "type": "quantitative"}, "text": {"field": "md"}}},
 {"mark": {"type": "text", "fontSize": 12, "align": "left", "dx": 116, "dy": 39, "color": "#111111"}, "encoding": {"x": {"datum": 6.1, "type": "quantitative"}, "y": {"datum": 100, "type": "quantitative"}, "text": {"field": "sd"}}},
 {"mark": {"type": "text", "fontSize": 8, "align": "left", "dx": -517, "dy": -5}, "encoding": {"x": {"datum": -0.1, "type": "quantitative"}, "y": {"datum": 100, "type": "quantitative"}, "text": {"field": "num"}}},
 {"mark": {"type": "text", "fontSize": 15, "fontWeight": "bold", "align": "left", "baseline": "top", "dx": -490, "dy": -6, "lineBreak": "\n", "lineHeight": 16, "color": "#111111"}, "encoding": {"x": {"datum": -0.1, "type": "quantitative"}, "y": {"datum": 100, "type": "quantitative"}, "text": {"field": "title"}}}
]},
{"width": 960, "height": 2, "data": {"values": [{}]}, "mark": {"type": "rule", "stroke": "#aaaaaa", "strokeWidth": 1, "strokeDash": [6, 4]}, "encoding": {"x": {"datum": 0.001, "type": "quantitative", "scale": {"domain": [0, 1], "nice": false, "zero": false, "padding": 0}}, "x2": {"datum": 0.997}, "y": {"datum": 0.5, "type": "quantitative", "scale": {"domain": [0, 1], "nice": false, "zero": false, "padding": 0}}}},
{"width": 960, "height": 96, "data": {"values": [{"num": "4.6)", "title": "Mennyire volt elégedett a Gólyatábor\nidőpontjával?", "left": "egyáltalán nem", "right": "teljes mértékben", "n": "n=28", "avg": "átl.=4,5", "md": "md=5", "sd": "elt.=0,8", "mean": 4.54, "median": 5, "lo": 3.76, "hi": 5.31}]}, "layer": [
 {"mark": {"type": "bar", "fill": "#dedede"}, "encoding": {"x": {"datum": -0.1, "type": "quantitative", "scale": {"domain": [-0.1, 6.1], "range": [520, 788], "nice": false, "zero": false, "padding": 0}}, "x2": {"datum": 0.5}, "y": {"datum": 0, "type": "quantitative", "scale": {"domain": [0, 100], "range": [75, 23], "nice": false, "zero": false, "padding": 0}}, "y2": {"datum": 100}}},
 {"mark": {"type": "bar", "fill": "#dedede"}, "encoding": {"x": {"datum": 5.5, "type": "quantitative"}, "x2": {"datum": 6.1}, "y": {"datum": 0, "type": "quantitative"}, "y2": {"datum": 100}}},
 {"data": {"name": "h46"}, "mark": {"type": "bar", "orient": "vertical", "width": 34, "fill": "#b7d4ee", "cornerRadiusTopLeft": 3, "cornerRadiusTopRight": 3}, "encoding": {"x": {"field": "cat", "type": "quantitative"}, "y": {"field": "pct", "type": "quantitative"}}},
 {"data": {"name": "h46"}, "mark": {"type": "rule", "stroke": "#5b7b99", "strokeWidth": 1}, "encoding": {"x": {"field": "cat", "type": "quantitative"}, "y": {"datum": 0, "type": "quantitative"}, "y2": {"datum": 100}}},
 {"mark": {"type": "rule", "stroke": "#333333", "strokeWidth": 1.2}, "encoding": {"x": {"datum": 0.5, "type": "quantitative"}, "x2": {"datum": 5.5}, "y": {"datum": 100, "type": "quantitative"}}},
 {"mark": {"type": "rule", "stroke": "#555555", "strokeWidth": 2.5}, "encoding": {"x": {"datum": 0.5, "type": "quantitative"}, "x2": {"datum": 5.5}, "y": {"datum": 0, "type": "quantitative"}}},
 {"data": {"name": "h46"}, "mark": {"type": "text", "fontSize": 11, "dy": -8}, "encoding": {"x": {"field": "cat", "type": "quantitative"}, "y": {"datum": 100, "type": "quantitative"}, "text": {"field": "lab"}}},
 {"data": {"name": "h46"}, "mark": {"type": "text", "fontSize": 11, "dy": 8}, "encoding": {"x": {"field": "cat", "type": "quantitative"}, "y": {"datum": 0, "type": "quantitative"}, "text": {"field": "cat", "type": "quantitative"}}},
 {"mark": {"type": "rule", "stroke": "#111111", "strokeWidth": 1.5}, "encoding": {"x": {"field": "lo", "type": "quantitative"}, "x2": {"field": "hi"}, "y": {"datum": 84.6, "type": "quantitative"}}},
 {"mark": {"type": "tick", "orient": "vertical", "size": 9, "thickness": 1.5, "color": "#111111", "opacity": 1}, "encoding": {"x": {"field": "lo", "type": "quantitative"}, "y": {"datum": 84.6, "type": "quantitative"}}},
 {"mark": {"type": "tick", "orient": "vertical", "size": 9, "thickness": 1.5, "color": "#111111", "opacity": 1}, "encoding": {"x": {"field": "hi", "type": "quantitative"}, "y": {"datum": 84.6, "type": "quantitative"}}},
 {"mark": {"type": "tick", "orient": "vertical", "size": 14, "thickness": 4.5, "color": "#9e1c1c", "opacity": 1, "cornerRadius": 2}, "encoding": {"x": {"field": "mean", "type": "quantitative"}, "y": {"datum": 84.6, "type": "quantitative"}}},
 {"mark": {"type": "point", "shape": "triangle-down", "size": 55, "filled": true, "color": "#1c1c7c", "opacity": 1}, "encoding": {"x": {"field": "median", "type": "quantitative"}, "y": {"datum": 92.3, "type": "quantitative"}}},
 {"mark": {"type": "text", "fontSize": 11, "align": "right", "dx": -5, "dy": 6}, "encoding": {"x": {"datum": -0.1, "type": "quantitative"}, "y": {"datum": 100, "type": "quantitative"}, "text": {"field": "left"}}},
 {"mark": {"type": "text", "fontSize": 11, "align": "left", "dx": 5, "dy": 6}, "encoding": {"x": {"datum": 6.1, "type": "quantitative"}, "y": {"datum": 100, "type": "quantitative"}, "text": {"field": "right"}}},
 {"mark": {"type": "text", "fontSize": 12, "align": "left", "dx": 116, "dy": 2, "color": "#111111"}, "encoding": {"x": {"datum": 6.1, "type": "quantitative"}, "y": {"datum": 100, "type": "quantitative"}, "text": {"field": "n"}}},
 {"mark": {"type": "text", "fontSize": 12, "align": "left", "dx": 116, "dy": 15, "color": "#8b1a1a"}, "encoding": {"x": {"datum": 6.1, "type": "quantitative"}, "y": {"datum": 100, "type": "quantitative"}, "text": {"field": "avg"}}},
 {"mark": {"type": "text", "fontSize": 12, "align": "left", "dx": 116, "dy": 27, "color": "#1a1a80"}, "encoding": {"x": {"datum": 6.1, "type": "quantitative"}, "y": {"datum": 100, "type": "quantitative"}, "text": {"field": "md"}}},
 {"mark": {"type": "text", "fontSize": 12, "align": "left", "dx": 116, "dy": 39, "color": "#111111"}, "encoding": {"x": {"datum": 6.1, "type": "quantitative"}, "y": {"datum": 100, "type": "quantitative"}, "text": {"field": "sd"}}},
 {"mark": {"type": "text", "fontSize": 8, "align": "left", "dx": -517, "dy": -5}, "encoding": {"x": {"datum": -0.1, "type": "quantitative"}, "y": {"datum": 100, "type": "quantitative"}, "text": {"field": "num"}}},
 {"mark": {"type": "text", "fontSize": 15, "fontWeight": "bold", "align": "left", "baseline": "top", "dx": -490, "dy": -6, "lineBreak": "\n", "lineHeight": 16, "color": "#111111"}, "encoding": {"x": {"datum": -0.1, "type": "quantitative"}, "y": {"datum": 100, "type": "quantitative"}, "text": {"field": "title"}}}
]},
{"width": 960, "height": 2, "data": {"values": [{}]}, "mark": {"type": "rule", "stroke": "#aaaaaa", "strokeWidth": 1, "strokeDash": [6, 4]}, "encoding": {"x": {"datum": 0.001, "type": "quantitative", "scale": {"domain": [0, 1], "nice": false, "zero": false, "padding": 0}}, "x2": {"datum": 0.997}, "y": {"datum": 0.5, "type": "quantitative", "scale": {"domain": [0, 1], "nice": false, "zero": false, "padding": 0}}}},
{"width": 960, "height": 107, "data": {"values": [{"d": "2014.04.14", "c": "EvaSys kiértékelés", "p": "Oldal6"}]}, "layer": [
 {"mark": {"type": "rule", "stroke": "#777777", "strokeWidth": 2.5}, "encoding": {"x": {"datum": 0.002, "type": "quantitative", "scale": {"domain": [0, 1], "nice": false, "zero": false, "padding": 0}}, "x2": {"datum": 0.998}, "y": {"datum": 1, "type": "quantitative", "scale": {"domain": [0, 1], "range": [97, 88], "nice": false, "zero": false, "padding": 0}}}},
 {"mark": {"type": "text", "fontSize": 12.5, "align": "left", "dx": 2}, "encoding": {"x": {"datum": 0, "type": "quantitative"}, "y": {"datum": 0, "type": "quantitative"}, "text": {"field": "d"}}},
 {"mark": {"type": "text", "fontSize": 12.5, "align": "center"}, "encoding": {"x": {"datum": 0.5, "type": "quantitative"}, "y": {"datum": 0, "type": "quantitative"}, "text": {"field": "c"}}},
 {"mark": {"type": "text", "fontSize": 12.5, "align": "right", "dx": -3}, "encoding": {"x": {"datum": 1, "type": "quantitative"}, "y": {"datum": 0, "type": "quantitative"}, "text": {"field": "p"}}}
]}
]
}
